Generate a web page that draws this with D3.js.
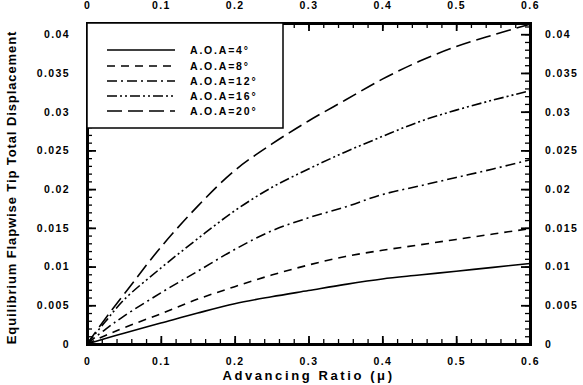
<!DOCTYPE html>
<html>
<head>
<meta charset="utf-8">
<script src="https://cdn.jsdelivr.net/npm/d3@7"></script>
<style>
body { margin: 0; background: #fff; }
text { font-family: "Liberation Sans", Arial, sans-serif; font-weight: bold; fill: #000; }
</style>
</head>
<body>
<div id="chart"></div>
<script>
var mu = [0, 0.025, 0.05, 0.1, 0.15, 0.2, 0.25, 0.3, 0.35, 0.4, 0.45, 0.5, 0.55, 0.6];
var aoa4  = [0, 0.0007, 0.0014, 0.0027, 0.0040, 0.0052, 0.0061, 0.0069, 0.0077, 0.0084, 0.0089, 0.0094, 0.0099, 0.0104];
var aoa8  = [0, 0.0011, 0.0021, 0.0039, 0.0058, 0.0074, 0.0089, 0.0102, 0.0113, 0.0121, 0.0128, 0.0135, 0.0142, 0.0149];
var aoa12 = [0, 0.0019, 0.0036, 0.0066, 0.0094, 0.0122, 0.0146, 0.0163, 0.0177, 0.0193, 0.0204, 0.0215, 0.0226, 0.0238];
var aoa16 = [0, 0.0029, 0.0057, 0.0098, 0.0136, 0.0172, 0.0202, 0.0226, 0.0248, 0.0268, 0.0287, 0.0302, 0.0315, 0.0327];
var aoa20 = [0, 0.0033, 0.0064, 0.0125, 0.0178, 0.0224, 0.0258, 0.0288, 0.0315, 0.0342, 0.0365, 0.0384, 0.0399, 0.0413];
var seriesNames = ["A.O.A=4°", "A.O.A=8°", "A.O.A=12°", "A.O.A=16°", "A.O.A=20°"];
var xTicks = [0, 0.1, 0.2, 0.3, 0.4, 0.5, 0.6];
var yTicks = [0, 0.005, 0.01, 0.015, 0.02, 0.025, 0.03, 0.035, 0.04];

var width = 583, height = 385;
var pLeft = 87, pRight = 530, pTop = 23, pBottom = 344;

var svg = d3.select("#chart").append("svg")
    .attr("width", width)
    .attr("height", height);

var x = d3.scaleLinear().domain([0, 0.6]).range([pLeft, pRight]);
var y = d3.scaleLinear().domain([0, 0.04145]).range([pBottom, pTop]);

var series = [aoa4, aoa8, aoa12, aoa16, aoa20];
var dashes = ["none", "8,6", "10,4,2,4", "10,3,2,3,2,3", "15,6"];

// curves
var line = d3.line()
    .x(function(d, i) { return x(mu[i]); })
    .y(function(d) { return y(d); })
    .curve(d3.curveCatmullRom);

for (var s = 0; s < series.length; s++) {
    svg.append("path")
    .attr("d", line(series[s]))
    .attr("fill", "none")
    .attr("stroke", "#000")
    .attr("stroke-width", 1.6)
    .attr("stroke-dasharray", dashes[s]);
}

// axes with inward ticks
function fmt(d) { return d === 0 ? "0" : String(+d.toFixed(3)); }
var xMinor = d3.range(0, 0.6001, 0.02);
var yMinor = d3.range(0, 0.0415, 0.001);

svg.append("g").attr("class", "minor").attr("transform", "translate(0," + pBottom + ")")
    .call(d3.axisBottom(x).tickValues(xMinor).tickSize(-5).tickFormat(""));
svg.append("g").attr("class", "minor").attr("transform", "translate(0," + pTop + ")")
    .call(d3.axisTop(x).tickValues(xMinor).tickSize(-5).tickFormat(""));
svg.append("g").attr("class", "minor").attr("transform", "translate(" + pLeft + ",0)")
    .call(d3.axisLeft(y).tickValues(yMinor).tickSize(-5).tickFormat(""));
svg.append("g").attr("class", "minor").attr("transform", "translate(" + pRight + ",0)")
    .call(d3.axisRight(y).tickValues(yMinor).tickSize(-5).tickFormat(""));

svg.append("g").attr("transform", "translate(0," + pBottom + ")")
    .call(d3.axisBottom(x).tickValues(xTicks).tickSize(-8).tickPadding(14).tickFormat(fmt));
svg.append("g").attr("transform", "translate(0," + pTop + ")")
    .call(d3.axisTop(x).tickValues(xTicks).tickSize(-8).tickPadding(14).tickFormat(fmt));
svg.append("g").attr("transform", "translate(" + pLeft + ",0)")
    .call(d3.axisLeft(y).tickValues(yTicks).tickSize(-9).tickPadding(17).tickFormat(fmt));
svg.append("g").attr("transform", "translate(" + pRight + ",0)")
    .call(d3.axisRight(y).tickValues(yTicks).tickSize(-9).tickPadding(15).tickFormat(fmt));

svg.selectAll(".domain").attr("stroke", "#000").attr("stroke-width", 3);
svg.selectAll(".tick line").attr("stroke", "#000").attr("stroke-width", 1.8);
svg.selectAll(".minor .tick line").attr("stroke-width", 1.3);
svg.selectAll(".tick text")
    .style("font-family", "'Liberation Sans', Arial, sans-serif")
    .style("font-weight", "bold")
    .style("font-size", "10.5px")
    .style("letter-spacing", "1.4px");

// legend
var legend = svg.append("g");
legend.append("rect")
    .attr("x", pLeft)
    .attr("y", pTop)
    .attr("width", 196)
    .attr("height", 105)
    .attr("fill", "#fff")
    .attr("stroke", "#000")
    .attr("stroke-width", 1.5);
var rows = [50, 66, 81, 96, 111];
for (var i = 0; i < seriesNames.length; i++) {
    legend.append("line")
    .attr("x1", 107).attr("x2", 175)
    .attr("y1", rows[i]).attr("y2", rows[i])
    .attr("stroke", "#000")
    .attr("stroke-width", 1.6)
    .attr("stroke-dasharray", dashes[i]);
    legend.append("text")
    .attr("x", 190)
    .attr("y", rows[i] + 4)
    .attr("font-size", "10.5px")
    .attr("letter-spacing", "1.8px")
    .text(seriesNames[i]);
}

// titles
svg.append("text")
    .attr("x", (pLeft + pRight) / 2)
    .attr("y", 380)
    .attr("text-anchor", "middle")
    .attr("font-size", "13px")
    .attr("letter-spacing", "2.6px")
    .text("Advancing Ratio (μ)");

svg.append("text")
    .attr("transform", "translate(16," + ((pTop + pBottom) / 2 + 4) + ") rotate(-90)")
    .attr("text-anchor", "middle")
    .attr("font-size", "13px")
    .attr("letter-spacing", "0.9px")
    .text("Equilibrium Flapwise Tip Total Displacement");
</script>
</body>
</html>
